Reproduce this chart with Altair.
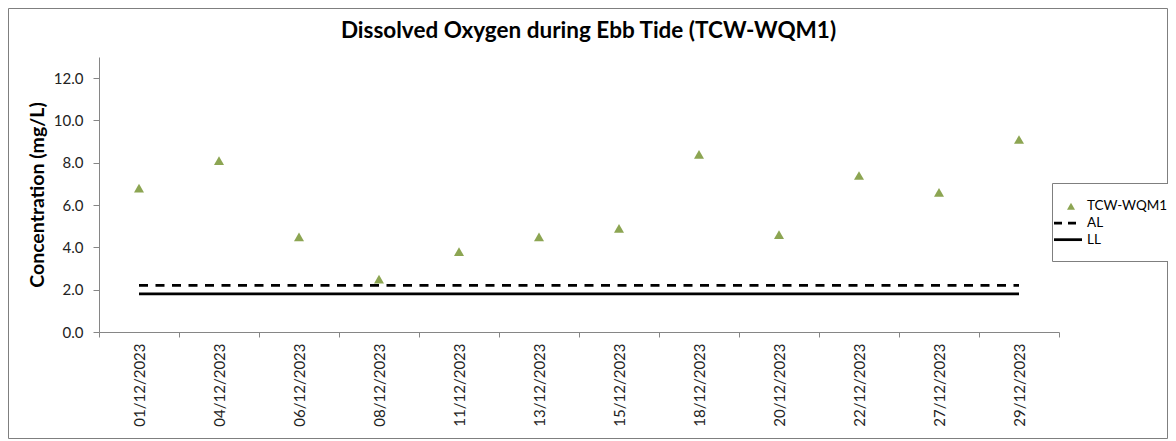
import altair as alt
import pandas as pd

dates = ["01/12/2023", "04/12/2023", "06/12/2023", "08/12/2023", "11/12/2023", "13/12/2023",
         "15/12/2023", "18/12/2023", "20/12/2023", "22/12/2023", "27/12/2023", "29/12/2023"]
do_values = [6.8, 8.1, 4.5, 2.5, 3.8, 4.5, 4.9, 8.4, 4.6, 7.4, 6.6, 9.1]
al_values = [2.2] * 12
ll_values = [1.8] * 12
series_names = ["TCW-WQM1", "AL", "LL"]
y_ticks = [0, 2, 4, 6, 8, 10, 12]
chart_title = "Dissolved Oxygen during Ebb Tide (TCW-WQM1)"

GREEN = "#8CA552"
FONT = "Lato"

pts = pd.DataFrame({"date": dates, "value": do_values})
al = pd.DataFrame({"date": dates, "value": al_values})
ll = pd.DataFrame({"date": dates, "value": ll_values})
leg = pd.DataFrame({"series": series_names})

W, H = 960, 275
PL, PT, PR, PB = 91, 49, 109, 107

x_enc = alt.X("date:N", sort=dates, title=None,
              scale=alt.Scale(paddingInner=0, paddingOuter=0),
              axis=alt.Axis(labelAngle=-90, tickBand="extent", tickSize=5, labelPadding=6,
                            domainColor="#868686", tickColor="#868686", labelColor="#222222",
                            labelFont=FONT, labelFontSize=15, grid=False))
y_scale = alt.Scale(domain=[0, 13], nice=False)
y_enc = alt.Y("value:Q", scale=y_scale, title="Concentration (mg/L)",
              axis=alt.Axis(values=y_ticks, format=".1f", tickSize=6, labelPadding=10,
                            domainColor="#868686", tickColor="#868686", labelColor="#222222",
                            labelFont=FONT, labelFontSize=15, grid=False,
                            titleFont=FONT, titleFontSize=19.5, titleFontWeight="bold",
                            titleColor="#000000", titlePadding=6))

border = alt.Chart(alt.Data(values=[{}])).mark_rect(
    fill="transparent", stroke="#7f7f7f", strokeWidth=1
).encode(
    x=alt.value(-PL + 0.5), x2=alt.value(W + PR - 0.5),
    y=alt.value(-PT + 0.5), y2=alt.value(H + PB - 0.5)
)

al_line = alt.Chart(al).mark_line(color="black", strokeWidth=2.75, strokeDash=[9, 7.5]).encode(
    x=x_enc, y=y_enc)
ll_line = alt.Chart(ll).mark_line(color="black", strokeWidth=2.75).encode(x=x_enc, y=y_enc)
points = alt.Chart(pts).mark_point(filled=True, size=100, opacity=1, shape="triangle-up",
                                   color=GREEN).encode(x=x_enc, y=y_enc)

main = alt.layer(border, al_line, ll_line, points)

# title and legend (decoration)
title_mark = alt.Chart(alt.Data(values=[{"t": chart_title}])).mark_text(
    align="center", baseline="alphabetic", font=FONT, fontSize=22.5, fontWeight="bold",
    color="#000000"
).encode(x=alt.value(489.5), y=alt.value(-19), text="t:N")

LX0, LX1, LY0, LY1 = 953, 1069, 126, 204
row_y = alt.Y("series:N", sort=series_names, axis=None,
              scale=alt.Scale(range=[141, 191], padding=0))
leg_box = alt.Chart(alt.Data(values=[{}])).mark_rect(
    fill="white", stroke="#7f7f7f", strokeWidth=1
).encode(x=alt.value(LX0 + 0.5), x2=alt.value(LX1 + 0.5),
         y=alt.value(LY0 + 0.5), y2=alt.value(LY1 + 0.5))
leg_tri = alt.Chart(leg).transform_filter(alt.datum.series == "TCW-WQM1").mark_point(
    filled=True, size=64, opacity=1, shape="triangle-up", color=GREEN
).encode(x=alt.value(972), y=row_y)
leg_al = alt.Chart(leg).transform_filter(alt.datum.series == "AL").mark_rule(
    color="black", strokeWidth=2.75, strokeDash=[8, 6]
).encode(x=alt.value(955), x2=alt.value(983), y=row_y)
leg_ll = alt.Chart(leg).transform_filter(alt.datum.series == "LL").mark_rule(
    color="black", strokeWidth=2.75
).encode(x=alt.value(955), x2=alt.value(983), y=row_y)
leg_txt = alt.Chart(leg).mark_text(
    align="left", baseline="middle", font=FONT, fontSize=13.5, color="#000000"
).encode(x=alt.value(988), y=row_y, text="series:N")
legend_layer = alt.layer(title_mark, leg_box, leg_tri, leg_al, leg_ll, leg_txt)

chart = alt.layer(main, legend_layer).resolve_scale(y="independent").properties(
    width=W, height=H,
    background="white",
    autosize=alt.AutoSizeParams(type="none"),
    padding={"left": PL, "top": PT, "right": PR, "bottom": PB},
).configure_view(stroke="transparent", strokeWidth=0)

chart.save("out.html", embed_options={"renderer": "svg", "actions": False})
